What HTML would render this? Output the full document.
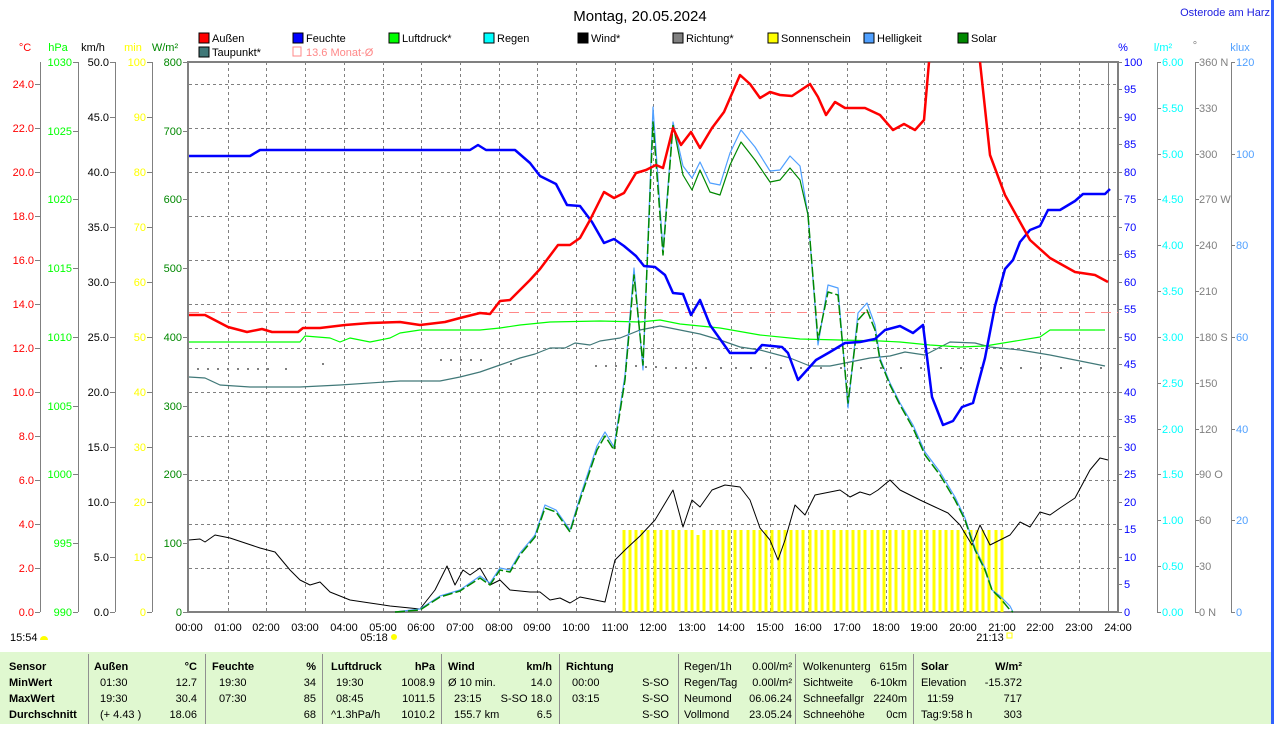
<!DOCTYPE html>
<html><head><meta charset="utf-8"><style>
body{margin:0;background:#fff;width:1274px;height:724px;overflow:hidden;font-family:"Liberation Sans",sans-serif}
svg text{font-family:"Liberation Sans",sans-serif;font-size:11px}
</style></head><body>
<svg width="1274" height="724" xmlns="http://www.w3.org/2000/svg">
<rect width="1274" height="724" fill="#fff"/>
<text x="640" y="21" font-size="15" text-anchor="middle" style="font-size:15px" fill="#000">Montag, 20.05.2024</text>
<text x="1270" y="16" text-anchor="end" fill="#2020e0">Osterode am Harz</text>
<g>
<rect x="199" y="33" width="10" height="10" fill="#f00" stroke="#000"/><text x="212" y="42">Außen</text>
<rect x="199" y="47" width="10" height="10" fill="#407878" stroke="#000"/><text x="212" y="56">Taupunkt*</text>
<rect x="293" y="33" width="10" height="10" fill="#00f" stroke="#000"/><text x="306" y="42">Feuchte</text>
<rect x="293" y="47" width="8" height="9" fill="none" stroke="#f88"/><text x="306" y="56" fill="#f88">13.6 Monat-Ø</text>
<rect x="389" y="33" width="10" height="10" fill="#0f0" stroke="#000"/><text x="402" y="42">Luftdruck*</text>
<rect x="484" y="33" width="10" height="10" fill="#0ff" stroke="#000"/><text x="497" y="42">Regen</text>
<rect x="578" y="33" width="10" height="10" fill="#000" stroke="#000"/><text x="591" y="42">Wind*</text>
<rect x="673" y="33" width="10" height="10" fill="#808080" stroke="#000"/><text x="686" y="42">Richtung*</text>
<rect x="768" y="33" width="10" height="10" fill="#ff0" stroke="#000"/><text x="781" y="42">Sonnenschein</text>
<rect x="864" y="33" width="10" height="10" fill="#50a0ff" stroke="#000"/><text x="877" y="42">Helligkeit</text>
<rect x="958" y="33" width="10" height="10" fill="#080" stroke="#000"/><text x="971" y="42">Solar</text>
</g>
<text x="25" y="51" fill="#f00" text-anchor="middle">°C</text>
<text x="58" y="51" fill="#0f0" text-anchor="middle">hPa</text>
<text x="93" y="51" text-anchor="middle">km/h</text>
<text x="133" y="51" fill="#ff0" text-anchor="middle">min</text>
<text x="165" y="51" fill="#080" text-anchor="middle">W/m²</text>
<text x="1123" y="51" fill="#00f" text-anchor="middle">%</text>
<text x="1163" y="51" fill="#0ff" text-anchor="middle">l/m²</text>
<text x="1195" y="49" fill="#808080" text-anchor="middle">°</text>
<text x="1240" y="51" fill="#50a0ff" text-anchor="middle">klux</text>
<g stroke="#808080" stroke-width="1">
<line x1="40.5" y1="62" x2="40.5" y2="612"/><line x1="78.5" y1="62" x2="78.5" y2="612"/>
<line x1="115.5" y1="62" x2="115.5" y2="612"/><line x1="152.5" y1="62" x2="152.5" y2="612"/>
<line x1="1157.5" y1="62" x2="1157.5" y2="612"/><line x1="1195.5" y1="62" x2="1195.5" y2="612"/>
<line x1="1231.5" y1="62" x2="1231.5" y2="612"/>
</g>
<!-- tick marks -->
<g stroke="#808080" stroke-width="1">
<path d="M35 612.5h5M35 568.5h5M35 524.5h5M35 480.5h5M35 436.5h5M35 392.5h5M35 348.5h5M35 304.5h5M35 260.5h5M35 216.5h5M35 172.5h5M35 128.5h5M35 84.5h5"/>
<path d="M73 612.5h5M73 543.5h5M73 474.5h5M73 406.5h5M73 337.5h5M73 268.5h5M73 199.5h5M73 131.5h5M73 62.5h5"/>
<path d="M110 612.5h5M110 557.5h5M110 502.5h5M110 447.5h5M110 392.5h5M110 337.5h5M110 282.5h5M110 227.5h5M110 172.5h5M110 117.5h5M110 62.5h5"/>
<path d="M147 612.5h5M147 557.5h5M147 502.5h5M147 447.5h5M147 392.5h5M147 337.5h5M147 282.5h5M147 227.5h5M147 172.5h5M147 117.5h5M147 62.5h5"/>
<path d="M183 612.5h5M183 543.5h5M183 474.5h5M183 406.5h5M183 337.5h5M183 268.5h5M183 199.5h5M183 131.5h5M183 62.5h5"/>
<path d="M1118 612.5h4M1118 584.5h4M1118 557.5h4M1118 529.5h4M1118 502.5h4M1118 474.5h4M1118 447.5h4M1118 419.5h4M1118 392.5h4M1118 364.5h4M1118 337.5h4M1118 309.5h4M1118 282.5h4M1118 254.5h4M1118 227.5h4M1118 199.5h4M1118 172.5h4M1118 144.5h4M1118 117.5h4M1118 89.5h4M1118 62.5h4"/>
<path d="M1157 612.5h4M1157 566.5h4M1157 520.5h4M1157 474.5h4M1157 429.5h4M1157 383.5h4M1157 337.5h4M1157 291.5h4M1157 245.5h4M1157 199.5h4M1157 154.5h4M1157 108.5h4M1157 62.5h4"/>
<path d="M1195 612.5h4M1195 566.5h4M1195 520.5h4M1195 474.5h4M1195 429.5h4M1195 383.5h4M1195 337.5h4M1195 291.5h4M1195 245.5h4M1195 199.5h4M1195 154.5h4M1195 108.5h4M1195 62.5h4"/>
<path d="M1231 612.5h4M1231 520.5h4M1231 429.5h4M1231 337.5h4M1231 245.5h4M1231 154.5h4M1231 62.5h4"/>
</g>
<g stroke="#808080" stroke-dasharray="3,3" stroke-width="1">
<line x1="189" y1="84.5" x2="1118" y2="84.5"/><line x1="189" y1="128.5" x2="1118" y2="128.5"/><line x1="189" y1="172.5" x2="1118" y2="172.5"/><line x1="189" y1="216.5" x2="1118" y2="216.5"/><line x1="189" y1="260.5" x2="1118" y2="260.5"/><line x1="189" y1="304.5" x2="1118" y2="304.5"/><line x1="189" y1="348.5" x2="1118" y2="348.5"/><line x1="189" y1="392.5" x2="1118" y2="392.5"/><line x1="189" y1="436.5" x2="1118" y2="436.5"/><line x1="189" y1="480.5" x2="1118" y2="480.5"/><line x1="189" y1="524.5" x2="1118" y2="524.5"/><line x1="189" y1="568.5" x2="1118" y2="568.5"/>
<line x1="228.5" y1="62" x2="228.5" y2="612"/><line x1="266.5" y1="62" x2="266.5" y2="612"/><line x1="305.5" y1="62" x2="305.5" y2="612"/><line x1="344.5" y1="62" x2="344.5" y2="612"/><line x1="383.5" y1="62" x2="383.5" y2="612"/><line x1="421.5" y1="62" x2="421.5" y2="612"/><line x1="460.5" y1="62" x2="460.5" y2="612"/><line x1="499.5" y1="62" x2="499.5" y2="612"/><line x1="537.5" y1="62" x2="537.5" y2="612"/><line x1="576.5" y1="62" x2="576.5" y2="612"/><line x1="615.5" y1="62" x2="615.5" y2="612"/><line x1="653.5" y1="62" x2="653.5" y2="612"/><line x1="692.5" y1="62" x2="692.5" y2="612"/><line x1="731.5" y1="62" x2="731.5" y2="612"/><line x1="770.5" y1="62" x2="770.5" y2="612"/><line x1="808.5" y1="62" x2="808.5" y2="612"/><line x1="847.5" y1="62" x2="847.5" y2="612"/><line x1="886.5" y1="62" x2="886.5" y2="612"/><line x1="924.5" y1="62" x2="924.5" y2="612"/><line x1="963.5" y1="62" x2="963.5" y2="612"/><line x1="1002.5" y1="62" x2="1002.5" y2="612"/><line x1="1040.5" y1="62" x2="1040.5" y2="612"/><line x1="1079.5" y1="62" x2="1079.5" y2="612"/>
</g>
<g stroke="#808080" fill="none">
<rect x="188" y="62" width="930" height="550" stroke-width="2"/>
<line x1="1108.5" y1="62" x2="1108.5" y2="612"/>
</g>
<g fill="#f00" text-anchor="end">
<text x="34" y="616">0.0</text><text x="34" y="572">2.0</text><text x="34" y="528">4.0</text><text x="34" y="484">6.0</text><text x="34" y="440">8.0</text><text x="34" y="396">10.0</text><text x="34" y="352">12.0</text><text x="34" y="308">14.0</text><text x="34" y="264">16.0</text><text x="34" y="220">18.0</text><text x="34" y="176">20.0</text><text x="34" y="132">22.0</text><text x="34" y="88">24.0</text>
</g>
<g fill="#0f0" text-anchor="end">
<text x="72" y="616">990</text><text x="72" y="547">995</text><text x="72" y="478">1000</text><text x="72" y="410">1005</text><text x="72" y="341">1010</text><text x="72" y="272">1015</text><text x="72" y="203">1020</text><text x="72" y="135">1025</text><text x="72" y="66">1030</text>
</g>
<g fill="#000" text-anchor="end">
<text x="109" y="616">0.0</text><text x="109" y="561">5.0</text><text x="109" y="506">10.0</text><text x="109" y="451">15.0</text><text x="109" y="396">20.0</text><text x="109" y="341">25.0</text><text x="109" y="286">30.0</text><text x="109" y="231">35.0</text><text x="109" y="176">40.0</text><text x="109" y="121">45.0</text><text x="109" y="66">50.0</text>
</g>
<g fill="#ff0" text-anchor="end">
<text x="146" y="616">0</text><text x="146" y="561">10</text><text x="146" y="506">20</text><text x="146" y="451">30</text><text x="146" y="396">40</text><text x="146" y="341">50</text><text x="146" y="286">60</text><text x="146" y="231">70</text><text x="146" y="176">80</text><text x="146" y="121">90</text><text x="146" y="66">100</text>
</g>
<g fill="#080" text-anchor="end">
<text x="182" y="616">0</text><text x="182" y="547">100</text><text x="182" y="478">200</text><text x="182" y="410">300</text><text x="182" y="341">400</text><text x="182" y="272">500</text><text x="182" y="203">600</text><text x="182" y="135">700</text><text x="182" y="66">800</text>
</g>
<g fill="#00f">
<text x="1124" y="616">0</text><text x="1124" y="588">5</text><text x="1124" y="561">10</text><text x="1124" y="533">15</text><text x="1124" y="506">20</text><text x="1124" y="478">25</text><text x="1124" y="451">30</text><text x="1124" y="423">35</text><text x="1124" y="396">40</text><text x="1124" y="368">45</text><text x="1124" y="341">50</text><text x="1124" y="313">55</text><text x="1124" y="286">60</text><text x="1124" y="258">65</text><text x="1124" y="231">70</text><text x="1124" y="203">75</text><text x="1124" y="176">80</text><text x="1124" y="148">85</text><text x="1124" y="121">90</text><text x="1124" y="93">95</text><text x="1124" y="66">100</text>
</g>
<g fill="#0ff">
<text x="1162" y="616">0.00</text><text x="1162" y="570">0.50</text><text x="1162" y="524">1.00</text><text x="1162" y="478">1.50</text><text x="1162" y="433">2.00</text><text x="1162" y="387">2.50</text><text x="1162" y="341">3.00</text><text x="1162" y="295">3.50</text><text x="1162" y="249">4.00</text><text x="1162" y="203">4.50</text><text x="1162" y="158">5.00</text><text x="1162" y="112">5.50</text><text x="1162" y="66">6.00</text>
</g>
<g fill="#808080">
<text x="1199" y="616">0 N</text><text x="1199" y="570">30</text><text x="1199" y="524">60</text><text x="1199" y="478">90 O</text><text x="1199" y="433">120</text><text x="1199" y="387">150</text><text x="1199" y="341">180 S</text><text x="1199" y="295">210</text><text x="1199" y="249">240</text><text x="1199" y="203">270 W</text><text x="1199" y="158">300</text><text x="1199" y="112">330</text><text x="1199" y="66">360 N</text>
</g>
<g fill="#50a0ff">
<text x="1236" y="616">0</text><text x="1236" y="524">20</text><text x="1236" y="433">40</text><text x="1236" y="341">60</text><text x="1236" y="249">80</text><text x="1236" y="158">100</text><text x="1236" y="66">120</text>
</g>
<g stroke="#ff0" stroke-width="3">
<path d="M624 530V612M630 530V612M636 530V612M642 530V612M648 530V612M655 530V612M661 530V612M667 530V612M673 530V612M679 530V612M686 530V612M692 530V612M698 535V612M704 530V612M711 530V612M717 530V612M723 530V612M729 530V612M735 530V612M741 530V612M748 530V612M754 530V612M760 530V612M766 530V612M772 530V612M779 530V612M785 530V612M791 530V612M797 530V612M803 530V612M810 530V612M816 530V612M822 530V612M828 530V612M834 530V612M841 530V612M847 530V612M853 530V612M859 530V612M865 530V612M872 530V612M878 530V612M884 530V612M890 530V612M896 530V612M903 530V612M909 530V612M915 530V612M921 530V612M927 530V612M934 530V612M940 530V612M946 530V612M952 530V612M958 530V612M965 530V612M971 530V612M977 530V612M983 530V612M989 530V612M996 530V612M1002 530V612"/>
</g>
<line x1="189" y1="312.5" x2="1118" y2="312.5" stroke="#f88" stroke-dasharray="10,6"/>
<g fill="#808080">
<path d="M197 368h2v2h-2zM207 368h2v2h-2zM217 368h2v2h-2zM227 368h2v2h-2zM237 368h2v2h-2zM247 368h2v2h-2zM257 368h2v2h-2zM267 368h2v2h-2zM285 368h2v2h-2zM322 363h2v2h-2zM440 359h2v2h-2zM450 359h2v2h-2zM460 359h2v2h-2zM470 359h2v2h-2zM480 359h2v2h-2zM510 363h2v2h-2zM595 365h2v2h-2zM605 365h2v2h-2zM615 365h2v2h-2zM625 365h2v2h-2zM635 365h2v2h-2zM645 366h2v2h-2zM655 366h2v2h-2zM665 367h2v2h-2zM675 367h2v2h-2zM685 367h2v2h-2zM695 367h2v2h-2zM705 367h2v2h-2zM720 367h2v2h-2zM735 367h2v2h-2zM750 367h2v2h-2zM765 367h2v2h-2zM780 367h2v2h-2zM800 367h2v2h-2zM820 367h2v2h-2zM840 367h2v2h-2zM860 367h2v2h-2zM880 367h2v2h-2zM900 367h2v2h-2zM920 367h2v2h-2zM940 367h2v2h-2zM960 367h2v2h-2zM980 367h2v2h-2zM1000 367h2v2h-2zM1020 367h2v2h-2zM1040 367h2v2h-2zM1060 367h2v2h-2zM1080 367h2v2h-2zM1100 367h2v2h-2z"/>
</g>
<g fill="none" stroke-linejoin="round">
<polyline stroke="#407878" stroke-width="1.2" points="189,377 205,378 220,385 250,387 300,387 340,385 400,381 440,381 460,377 480,372 500,365 520,358 535,354 550,348 565,348 575,343 590,345 600,341 620,338 640,330 660,326 680,330 700,334 720,340 740,347 760,350 790,358 810,366 830,366 850,362 870,358 890,356 905,352 925,355 950,342 975,343 990,347 1020,350 1050,355 1080,361 1105,366"/>
<polyline stroke="#0f0" stroke-width="1.2" points="189,342 300,342 305,336 330,338 340,342 350,338 370,342 390,338 400,333 420,330 480,330 500,328 520,325 550,322 600,321 640,322 660,320 680,324 720,328 760,335 800,339 880,341 900,342 930,345 960,347 985,346 1040,337 1050,330 1105,330"/>
<polyline stroke="#000" stroke-width="1" points="189,540 200,539 205,542 215,535 230,538 260,548 275,552 290,570 300,580 310,585 320,582 330,592 340,596 350,600 370,603 390,606 400,607 420,609 435,590 447,566 455,585 463,570 470,575 480,568 490,585 500,580 510,590 530,592 540,592 550,600 560,598 570,603 580,597 595,600 605,602 615,560 625,550 640,536 655,520 673,490 683,527 692,500 700,507 712,490 725,485 740,487 750,500 760,528 770,540 778,560 785,540 795,505 805,515 815,495 830,492 840,490 850,497 860,492 870,495 878,490 890,480 900,490 920,500 935,507 948,513 960,525 972,545 980,525 990,545 1000,540 1010,535 1020,522 1030,527 1040,512 1050,515 1060,508 1075,498 1090,470 1100,458 1108,460"/>
<polyline stroke="#50a0ff" stroke-width="1.2" points="395,612 420,609 440,596 460,590 480,576 490,583 500,568 510,570 520,553 535,535 545,505 556,510 570,530 580,497 597,446 605,432 614,447 625,375 634,268 643,370 653,107 663,250 673,122 683,166 692,178 700,162 710,183 720,185 730,153 741,130 755,147 770,171 780,170 790,156 800,166 808,215 818,345 828,285 838,288 848,408 858,313 867,303 875,325 880,358 890,383 900,403 913,425 925,452 940,472 955,497 965,518 975,548 985,568 992,590 1000,596 1010,606 1013,612"/>
<polyline stroke="#080" stroke-width="1.5" stroke-dasharray="10,3" points="395,612 420,610 440,597 460,591 480,578 490,585 500,570 510,572 520,555 535,537 545,508 556,512 570,532 580,500 597,450 605,436 614,450 625,380 634,275 643,365 653,122 663,255 673,125"/>
<polyline stroke="#080" stroke-width="1.2" points="673,125 683,175 692,190 700,170 710,192 720,195 730,165 741,142 755,160 770,182 780,180 790,168 800,180 808,215"/>
<polyline stroke="#080" stroke-width="1.5" stroke-dasharray="10,3" points="808,215 818,340 828,292 838,295 848,403 858,320 867,310 875,330 880,360 890,385 900,405 913,428 925,455 940,475 955,500 965,520 975,550 985,570 992,590 1000,598 1010,610 1013,612"/>
<polyline stroke="#00f" stroke-width="2.5" points="189,156 250,156 260,150 470,150 478,145 486,150 515,150 530,163 540,176 556,184 567,205 580,206 592,222 604,243 614,239 624,246 636,256 644,266 655,267 665,275 673,293 683,294 691,315 700,300 710,325 730,353 755,353 762,345 782,347 788,353 798,380 816,360 830,352 845,343 860,342 875,339 885,330 900,326 913,333 923,325 932,397 943,425 953,421 962,407 973,403 985,358 995,306 1005,269 1013,260 1020,242 1030,230 1040,226 1048,210 1060,210 1075,201 1083,194 1105,194 1110,189"/>
<polyline stroke="#f00" stroke-width="2.5" points="189,315 205,315 228,327 247,332 262,329 272,332 298,332 303,328 320,328 345,325 370,323 400,322 420,325 445,322 460,318 480,313 490,314 500,301 510,300 530,280 540,269 558,245 570,245 580,238 590,220 604,192 614,198 624,193 636,173 646,170 656,165 663,168 673,128 681,145 691,132 700,148 712,128 724,112 740,75 750,84 760,98 770,92 780,95 792,96 810,84 818,97 826,115 835,102 845,108 865,108 880,115 893,130 904,124 915,130 924,120 929,62"/>
<polyline stroke="#f00" stroke-width="2.5" points="980,62 990,155 1005,195 1030,240 1050,258 1075,272 1095,275 1108,282"/>
</g>
<g text-anchor="middle" fill="#000">
<text x="189" y="631">00:00</text><text x="228" y="631">01:00</text><text x="266" y="631">02:00</text><text x="305" y="631">03:00</text><text x="344" y="631">04:00</text><text x="383" y="631">05:00</text><text x="421" y="631">06:00</text><text x="460" y="631">07:00</text><text x="499" y="631">08:00</text><text x="537" y="631">09:00</text><text x="576" y="631">10:00</text><text x="615" y="631">11:00</text><text x="653" y="631">12:00</text><text x="692" y="631">13:00</text><text x="731" y="631">14:00</text><text x="770" y="631">15:00</text><text x="808" y="631">16:00</text><text x="847" y="631">17:00</text><text x="886" y="631">18:00</text><text x="924" y="631">19:00</text><text x="963" y="631">20:00</text><text x="1002" y="631">21:00</text><text x="1040" y="631">22:00</text><text x="1079" y="631">23:00</text><text x="1118" y="631">24:00</text>
<text x="374" y="641">05:18</text><text x="990" y="641">21:13</text>
</g>
<text x="10" y="641">15:54</text>
<path d="M40 640a4 4 0 0 1 8 0z" fill="#ff0"/>
<circle cx="394" cy="637" r="3" fill="#ff0"/>
<rect x="1007" y="633" width="5" height="5" fill="none" stroke="#ff0"/>
<rect x="0" y="652" width="1271" height="72" fill="#e0f8d0"/>
<g stroke="#909090"><line x1="88.5" y1="654" x2="88.5" y2="724"/><line x1="205.5" y1="654" x2="205.5" y2="724"/><line x1="322.5" y1="654" x2="322.5" y2="724"/><line x1="441.5" y1="654" x2="441.5" y2="724"/><line x1="559.5" y1="654" x2="559.5" y2="724"/><line x1="678.5" y1="654" x2="678.5" y2="724"/><line x1="795.5" y1="654" x2="795.5" y2="724"/><line x1="913.5" y1="654" x2="913.5" y2="724"/></g>
<g font-weight="bold" style="font-weight:bold">
<text x="9" y="670">Sensor</text><text x="9" y="686">MinWert</text><text x="9" y="702">MaxWert</text><text x="9" y="718">Durchschnitt</text>
<text x="94" y="670">Außen</text><text x="197" y="670" text-anchor="end">°C</text>
<text x="212" y="670">Feuchte</text><text x="316" y="670" text-anchor="end">%</text>
<text x="331" y="670">Luftdruck</text><text x="435" y="670" text-anchor="end">hPa</text>
<text x="448" y="670">Wind</text><text x="552" y="670" text-anchor="end">km/h</text>
<text x="566" y="670">Richtung</text>
<text x="921" y="670">Solar</text><text x="1022" y="670" text-anchor="end">W/m²</text>
</g>
<g>
<text x="100" y="686">01:30</text><text x="197" y="686" text-anchor="end">12.7</text>
<text x="100" y="702">19:30</text><text x="197" y="702" text-anchor="end">30.4</text>
<text x="100" y="718">(+ 4.43 )</text><text x="197" y="718" text-anchor="end">18.06</text>
<text x="219" y="686">19:30</text><text x="316" y="686" text-anchor="end">34</text>
<text x="219" y="702">07:30</text><text x="316" y="702" text-anchor="end">85</text>
<text x="316" y="718" text-anchor="end">68</text>
<text x="336" y="686">19:30</text><text x="435" y="686" text-anchor="end">1008.9</text>
<text x="336" y="702">08:45</text><text x="435" y="702" text-anchor="end">1011.5</text>
<text x="331" y="718">^1.3hPa/h</text><text x="435" y="718" text-anchor="end">1010.2</text>
<text x="448" y="686">Ø 10 min.</text><text x="552" y="686" text-anchor="end">14.0</text>
<text x="454" y="702">23:15</text><text x="552" y="702" text-anchor="end">S-SO 18.0</text>
<text x="454" y="718">155.7 km</text><text x="552" y="718" text-anchor="end">6.5</text>
<text x="572" y="686">00:00</text><text x="572" y="702">03:15</text>
<text x="669" y="686" text-anchor="end">S-SO</text><text x="669" y="702" text-anchor="end">S-SO</text><text x="669" y="718" text-anchor="end">S-SO</text>
<text x="684" y="670">Regen/1h</text><text x="792" y="670" text-anchor="end">0.00l/m²</text>
<text x="684" y="686">Regen/Tag</text><text x="792" y="686" text-anchor="end">0.00l/m²</text>
<text x="684" y="702">Neumond</text><text x="792" y="702" text-anchor="end">06.06.24</text>
<text x="684" y="718">Vollmond</text><text x="792" y="718" text-anchor="end">23.05.24</text>
<text x="803" y="670">Wolkenunterg</text><text x="907" y="670" text-anchor="end">615m</text>
<text x="803" y="686">Sichtweite</text><text x="907" y="686" text-anchor="end">6-10km</text>
<text x="803" y="702">Schneefallgr</text><text x="907" y="702" text-anchor="end">2240m</text>
<text x="803" y="718">Schneehöhe</text><text x="907" y="718" text-anchor="end">0cm</text>
<text x="921" y="686">Elevation</text><text x="1022" y="686" text-anchor="end">-15.372</text>
<text x="927" y="702">11:59</text><text x="1022" y="702" text-anchor="end">717</text>
<text x="921" y="718">Tag:9:58 h</text><text x="1022" y="718" text-anchor="end">303</text>
</g>
<rect x="1271" y="0" width="3" height="724" fill="#3060ff"/>
</svg>
</body></html>
